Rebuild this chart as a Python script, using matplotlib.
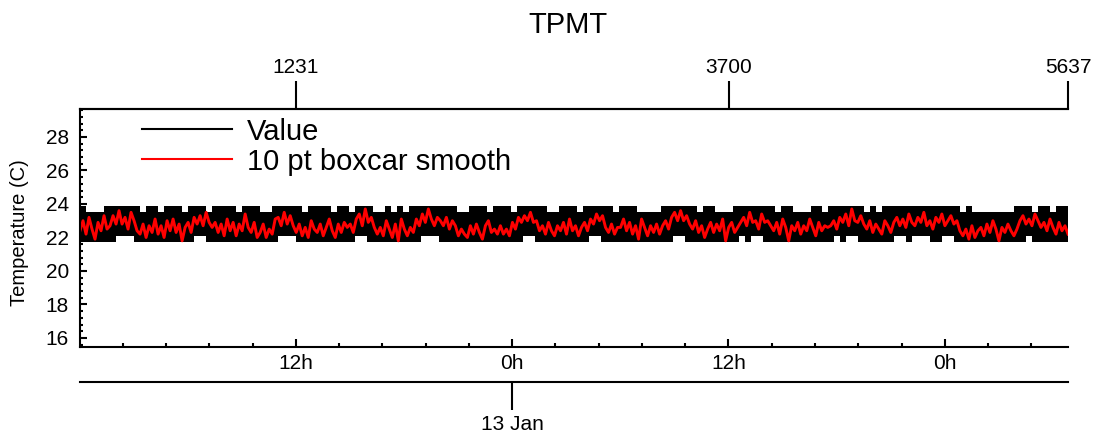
#TPMT temperature record, raw values (band) and 10 pt boxcar smooth
import numpy as np
import matplotlib.pyplot as plt
from matplotlib.lines import Line2D
from matplotlib.ticker import MultipleLocator, NullLocator

plt.rcParams['font.family'] = ['Liberation Sans', 'DejaVu Sans']

n_samples = 5637
dt_hours = 35.0 / 3600.0     # sample spacing
t0_hours = 0.03              # first sample, hours after 12 Jan 0h

# raw value, upper and lower envelope per bin
value_hi = [23.9, 23.5, 23.5, 23.5, 23.9, 23.9, 23.9, 23.9, 23.9, 23.9, 23.5, 23.9, 23.9, 23.5, 23.9,
            23.9, 23.9, 23.5, 23.9, 23.9, 23.9, 23.5, 23.9, 23.9, 23.9, 23.9, 23.5, 23.9, 23.9, 23.9,
            23.5, 23.5, 23.9, 23.9, 23.9, 23.9, 23.9, 23.5, 23.9, 23.9, 23.9, 23.9, 23.5, 23.9, 23.9,
            23.5, 23.9, 23.9, 23.9, 23.5, 23.5, 23.9, 23.5, 23.9, 23.5, 23.9, 23.9, 23.9, 23.9, 23.9,
            23.9, 23.9, 23.9, 23.5, 23.5, 23.9, 23.9, 23.9, 23.5, 23.9, 23.9, 23.9, 23.5, 23.9, 23.9,
            23.9, 23.9, 23.9, 23.5, 23.5, 23.9, 23.9, 23.9, 23.5, 23.9, 23.9, 23.9, 23.9, 23.9, 23.5,
            23.9, 23.9, 23.9, 23.5, 23.5, 23.5, 23.5, 23.9, 23.9, 23.9, 23.9, 23.9, 23.9, 23.5, 23.9,
            23.9, 23.5, 23.5, 23.5, 23.9, 23.9, 23.9, 23.9, 23.9, 23.9, 23.9, 23.5, 23.9, 23.9, 23.5,
            23.5, 23.5, 23.9, 23.9, 23.5, 23.9, 23.9, 23.9, 23.9, 23.9, 23.9, 23.5, 23.9, 23.5, 23.9,
            23.9, 23.9, 23.9, 23.9, 23.9, 23.9, 23.9, 23.9, 23.9, 23.9, 23.9, 23.9, 23.5, 23.9, 23.5,
            23.5, 23.5, 23.5, 23.5, 23.5, 23.5, 23.9, 23.9, 23.9, 23.5, 23.9, 23.9, 23.5, 23.9, 23.9]
value_lo = [21.7, 21.7, 21.7, 21.7, 21.7, 21.7, 22.1, 22.1, 22.1, 21.7, 21.7, 21.7, 21.7, 21.7, 21.7,
            21.7, 21.7, 21.7, 21.7, 22.1, 22.1, 21.7, 21.7, 21.7, 21.7, 21.7, 21.7, 21.7, 21.7, 21.7,
            21.7, 21.7, 21.7, 22.1, 22.1, 22.1, 21.7, 21.7, 21.7, 21.7, 21.7, 21.7, 21.7, 21.7, 21.7,
            21.7, 22.1, 22.1, 21.7, 21.7, 21.7, 21.7, 21.7, 21.7, 21.7, 21.7, 21.7, 22.1, 22.1, 22.1,
            21.7, 21.7, 21.7, 21.7, 21.7, 21.7, 21.7, 21.7, 21.7, 21.7, 21.7, 21.7, 21.7, 21.7, 22.1,
            22.1, 21.7, 21.7, 21.7, 21.7, 21.7, 21.7, 21.7, 21.7, 21.7, 22.1, 22.1, 21.7, 21.7, 21.7,
            21.7, 21.7, 21.7, 21.7, 21.7, 21.7, 21.7, 21.7, 21.7, 22.1, 22.1, 21.7, 21.7, 21.7, 21.7,
            21.7, 21.7, 21.7, 21.7, 21.7, 22.1, 21.7, 22.1, 22.1, 21.7, 21.7, 21.7, 21.7, 21.7, 21.7,
            21.7, 21.7, 21.7, 21.7, 21.7, 21.7, 22.1, 21.7, 22.1, 22.1, 21.7, 21.7, 21.7, 21.7, 21.7,
            21.7, 22.1, 22.1, 21.7, 22.1, 22.1, 22.1, 21.7, 21.7, 22.1, 22.1, 21.7, 21.7, 21.7, 21.7,
            21.7, 21.7, 21.7, 21.7, 21.7, 21.7, 21.7, 21.7, 22.1, 21.7, 21.7, 21.7, 21.7, 21.7, 21.7]

# 10 pt boxcar smooth, sampled evenly over the record
smooth = [22.4, 23.0, 22.2, 23.2, 22.5, 21.9, 22.9, 22.4, 23.3, 22.5,
          22.7, 23.3, 22.8, 23.6, 22.8, 23.2, 22.5, 23.5, 23.0, 22.4,
          22.2, 22.8, 22.0, 22.7, 22.3, 23.1, 22.2, 22.7, 22.0, 23.0,
          22.4, 23.1, 22.3, 22.8, 21.8, 22.6, 22.9, 22.3, 23.2, 22.8,
          23.3, 22.7, 23.5, 22.9, 22.6, 22.9, 22.3, 22.8, 22.1, 23.1,
          22.4, 22.9, 22.1, 22.8, 22.4, 23.4, 22.6, 22.3, 22.9, 22.0,
          22.3, 22.8, 22.0, 22.5, 22.2, 23.1, 23.2, 22.7, 23.5, 22.8,
          23.3, 22.7, 22.3, 22.8, 22.1, 22.6, 22.0, 23.0, 22.5, 22.3,
          22.8, 22.1, 22.6, 23.1, 22.4, 22.0, 22.8, 22.3, 22.9, 22.6,
          22.8, 22.3, 23.1, 23.4, 22.7, 23.7, 22.9, 23.2, 22.6, 22.2,
          22.6, 22.1, 23.0, 22.5, 22.0, 22.8, 21.8, 23.1, 22.5, 22.1,
          22.6, 22.3, 23.1, 22.7, 23.4, 22.9, 23.7, 23.1, 22.7, 23.2,
          23.0, 22.7, 23.2, 22.5, 23.0, 22.7, 22.1, 22.5, 22.2, 22.0,
          22.7, 22.2, 22.8, 22.3, 21.9, 22.7, 23.0, 22.3, 22.5, 22.2,
          22.7, 22.2, 22.5, 22.1, 22.9, 22.5, 23.2, 22.9, 23.3, 23.0,
          23.5, 22.9, 23.0, 22.4, 22.7, 22.2, 22.9, 22.4, 22.1, 22.7,
          22.4, 22.9, 22.2, 23.1, 22.4, 22.7, 22.1, 22.6, 22.9, 22.4,
          23.1, 22.8, 23.4, 23.0, 23.3, 22.6, 22.3, 22.8, 22.2, 22.6,
          22.6, 23.1, 22.4, 22.9, 22.2, 22.7, 21.9, 23.1, 22.6, 22.1,
          22.7, 22.3, 22.8, 22.2, 22.7, 23.0, 22.5, 23.2, 23.5, 23.0,
          23.6, 23.0, 23.3, 22.8, 22.5, 23.0, 22.3, 22.7, 22.0, 22.5,
          22.9, 22.3, 22.8, 22.4, 23.1, 21.8, 22.6, 22.9, 22.3, 22.6,
          22.9, 23.2, 22.7, 23.5, 22.9, 23.0, 22.5, 23.4, 22.9, 23.0,
          22.7, 22.4, 22.9, 22.2, 23.1, 22.6, 21.8, 22.7, 22.4, 22.9,
          22.2, 22.7, 22.4, 23.1, 22.6, 22.1, 22.9, 22.4, 22.7, 22.6,
          22.7, 23.0, 22.5, 23.2, 22.9, 23.4, 22.7, 23.7, 23.0, 22.9,
          23.3, 22.8, 22.5, 23.0, 22.3, 22.8, 22.5, 22.2, 23.0, 22.7,
          22.3, 22.9, 23.2, 22.7, 23.1, 22.6, 23.4, 22.9, 22.7, 23.2,
          22.9, 23.5, 22.7, 23.0, 22.5, 23.2, 22.9, 23.4, 22.7, 23.0,
          23.3, 22.8, 23.0, 22.4, 22.1, 22.5, 21.9, 22.7, 22.0, 22.4,
          22.6, 22.1, 22.8, 22.3, 23.0, 22.5, 21.8, 22.6, 22.3, 22.8,
          22.4, 22.1, 22.5, 23.0, 23.3, 22.8, 23.1, 22.7, 23.4, 23.0,
          22.6, 22.9, 22.4, 23.1, 22.6, 22.2, 22.9, 22.4, 22.7, 22.2]

top_ticks = [1231, 3700, 5637]
time_ticks = [12, 24, 36, 48]
time_labels = ['12h', '0h', '12h', '0h']
day_ticks = [24]
day_labels = ['13 Jan']


def idx2h(i):
    return t0_hours + np.asarray(i) * dt_hours


def h2idx(h):
    return (np.asarray(h) - t0_hours) / dt_hours


fig = plt.figure(figsize=(11.01, 4.45), dpi=100)
ax = fig.add_axes([80 / 1101, 1 - 347 / 445, 988 / 1101, 238 / 445])

edges = idx2h(np.linspace(0, n_samples, len(value_hi) + 1))
ax.fill_between(edges, value_lo + value_lo[-1:], value_hi + value_hi[-1:],
                step='post', color='k', lw=0)
ax.plot(idx2h(np.linspace(0, n_samples, len(smooth))), smooth, color='red', lw=2.1)

ax.set_xlim(idx2h(0), idx2h(n_samples))
ax.set_ylim(15.46, 29.67)

for s in ['left', 'bottom', 'top']:
    ax.spines[s].set_linewidth(1.5)
ax.spines['right'].set_visible(False)

ax.set_yticks(range(16, 29, 2))
ax.yaxis.set_minor_locator(MultipleLocator(0.4))
ax.set_xticks(time_ticks, time_labels)
ax.xaxis.set_minor_locator(MultipleLocator(2.4))
ax.tick_params(axis='both', which='both', direction='in', width=1.5, labelsize=15,
               top=False, right=False)
ax.tick_params(axis='y', which='major', length=5, pad=8)
ax.tick_params(axis='y', which='minor', length=2.5)
ax.tick_params(axis='x', which='major', length=6, pad=5)
ax.tick_params(axis='x', which='minor', length=3)

# sample index along the top
top = ax.secondary_xaxis('top', functions=(h2idx, idx2h))
top.set_xticks(top_ticks, [str(t) for t in top_ticks])
top.xaxis.set_minor_locator(NullLocator())
top.tick_params(direction='out', length=20, width=1.5, pad=3, labelsize=15)
top.spines['top'].set_linewidth(1.5)

# date axis below
day = ax.secondary_xaxis(-35 / 238)
day.set_xticks(day_ticks, day_labels)
day.xaxis.set_minor_locator(NullLocator())
day.tick_params(direction='out', length=20, width=1.5, pad=4, labelsize=15)
day.spines['bottom'].set_linewidth(1.5)

fig.text(567.7 / 1101, 1 - 33.3 / 445, 'TPMT', ha='center', va='baseline', fontsize=21)
fig.text(20 / 1101, 1 - 232.5 / 445, 'Temperature (C)', rotation=90,
         ha='center', va='center', fontsize=14.5)

custom_lines = [Line2D([0], [0], color='k', lw=1.5), Line2D([0], [0], color='red', lw=1.5)]
ax.legend(custom_lines, ['Value', '10 pt boxcar smooth'], loc='upper left',
          bbox_to_anchor=(0.0628, 0.964), frameon=False, fontsize=21,
          handlelength=3.1, handletextpad=0.5, labelspacing=0.07,
          borderpad=0, borderaxespad=0)

fig.savefig('out.png', dpi=100)
